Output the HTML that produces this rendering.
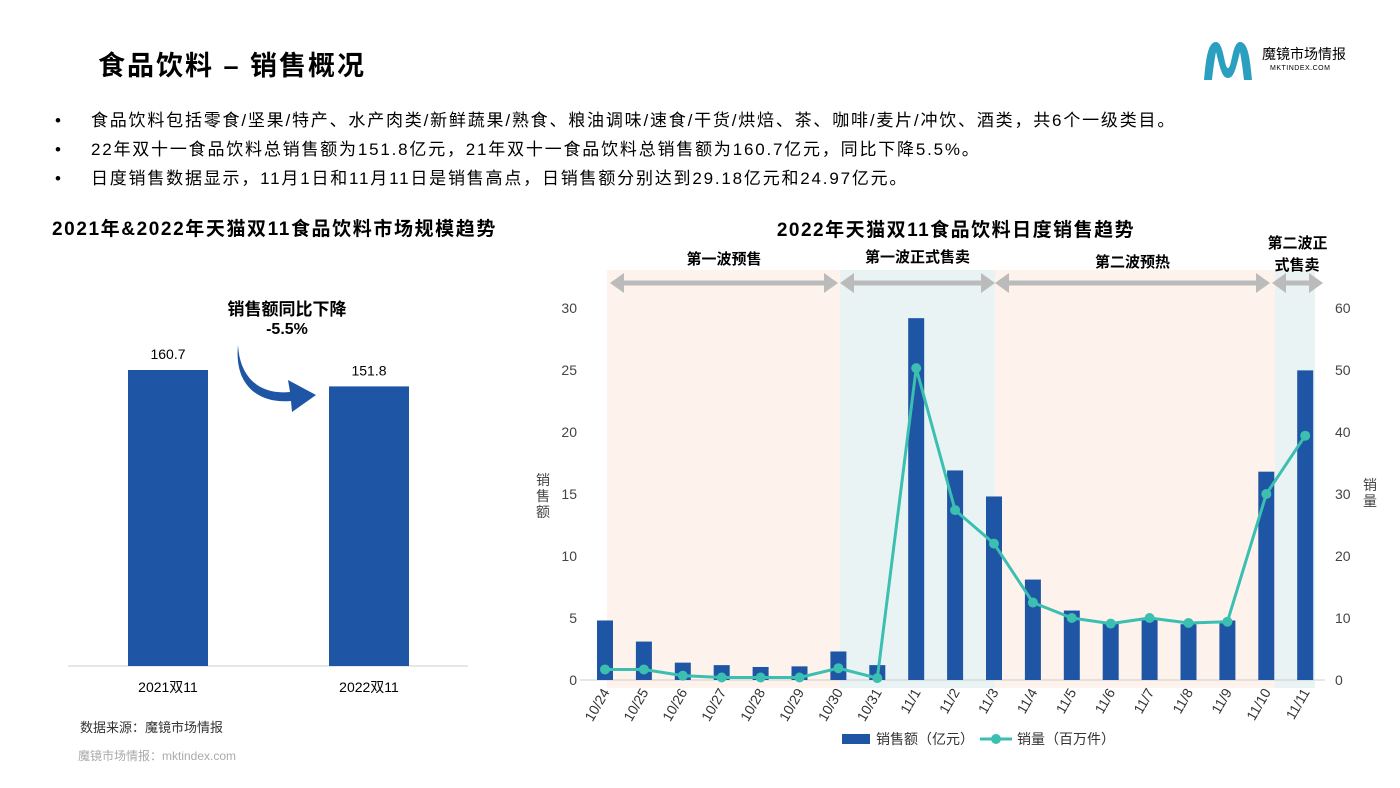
<!DOCTYPE html>
<html><head><meta charset="utf-8">
<style>
body{margin:0;width:1400px;height:788px;background:#fff;font-family:"Liberation Sans","Noto Sans CJK SC",sans-serif;position:relative;overflow:hidden;color:#000}
.abs{position:absolute}
</style></head><body>
<div class="abs" style="left:98px;top:44px;font-size:27px;font-weight:bold;letter-spacing:2px">食品饮料 – 销售概况</div>
<div class="abs" style="left:1200px;top:38px;width:160px;height:46px">
<svg width="56" height="46"><path d="M4 42 C6 20 8 4 16 4 C24 4 24 30 28 30 C32 30 32 4 40 4 C48 4 50 20 52 42 L44 42 C42 24 40 14 40 14 C36 30 34 40 28 40 C22 40 20 30 16 14 C16 14 14 24 12 42 Z" fill="#2a9fc0"/></svg>
<div class="abs" style="left:62px;top:6px;font-size:14px">魔镜市场情报</div>
<div class="abs" style="left:70px;top:27px;font-size:7px;letter-spacing:0.5px">MKTINDEX.COM</div>
</div>
<div class="abs" style="left:55px;top:106px;font-size:17px;line-height:29px;letter-spacing:1.8px">
<div><span style="letter-spacing:0">•</span><span style="display:inline-block;width:30px"></span>食品饮料包括零食/坚果/特产、水产肉类/新鲜蔬果/熟食、粮油调味/速食/干货/烘焙、茶、咖啡/麦片/冲饮、酒类，共6个一级类目。</div>
<div><span style="letter-spacing:0">•</span><span style="display:inline-block;width:30px"></span>22年双十一食品饮料总销售额为151.8亿元，21年双十一食品饮料总销售额为160.7亿元，同比下降5.5%。</div>
<div><span style="letter-spacing:0">•</span><span style="display:inline-block;width:30px"></span>日度销售数据显示，11月1日和11月11日是销售高点，日销售额分别达到29.18亿元和24.97亿元。</div>
</div>
<div class="abs" style="left:52px;top:214px;font-size:19px;font-weight:bold;letter-spacing:1.6px">2021年&amp;2022年天猫双11食品饮料市场规模趋势</div>
<svg class="abs" style="left:0;top:0" width="1400" height="788">
<g id="left"></g>
<g id="right"></g>
</svg>
<div class="abs" style="left:80px;top:717px;font-size:13px;color:#333">数据来源：魔镜市场情报</div>
<div class="abs" style="left:78px;top:747px;font-size:12px;color:#aaa">魔镜市场情报：mktindex.com</div>
<script>
const leftCats=["2021双11","2022双11"];
const leftVals=[160.7,151.8];
const cats=["10/24","10/25","10/26","10/27","10/28","10/29","10/30","10/31","11/1","11/2","11/3","11/4","11/5","11/6","11/7","11/8","11/9","11/10","11/11"];
const sales=[4.8,3.1,1.4,1.2,1.05,1.1,2.3,1.2,29.18,16.9,14.8,8.1,5.6,4.7,5.0,4.5,4.8,16.8,24.97];
const volume=[1.7,1.7,0.7,0.4,0.4,0.4,1.9,0.3,50.3,27.4,22.0,12.5,10.0,9.1,10.0,9.2,9.4,30.0,39.4];
const leftTicks=[0,5,10,15,20,25,30];
const rightTicks=[0,10,20,30,40,50,60];
const NS="http://www.w3.org/2000/svg";
function mk(p,t,a,txt){const e=document.createElementNS(NS,t);for(const k in a)e.setAttribute(k,a[k]);if(txt!=null)e.textContent=txt;p.appendChild(e);return e;}
// left chart
const L=document.getElementById('left');
const ly=v=>666-v*296/160.7;
const lx=i=>168+i*201;
let e=mk(L,'line',{x1:68,x2:468,y1:666,y2:666,stroke:'#ccc'});

leftVals.forEach((v,i)=>{
 let b=mk(L,'rect',{x:lx(i)-40,y:ly(v),width:80,height:666-ly(v),fill:'#1f55a5'});
 
 let t=mk(L,'text',{x:lx(i),y:ly(v)-11,'font-size':14,'text-anchor':'middle'},v.toFixed(1));
 
 let c=mk(L,'text',{x:lx(i),y:692,'font-size':14,'text-anchor':'middle'},leftCats[i]);
 
});
e=mk(L,'path',{d:'M238 345 C240 380 262 395 290 392 L288 380 L316 395 L292 412 L291 401 C258 404 234 385 238 345 Z',fill:'#1f55a5'});

e=mk(L,'text',{x:287,y:315,'font-size':17,'font-weight':'bold','text-anchor':'middle'},'销售额同比下降');

mk(L,'text',{x:287,y:334,'font-size':16,'font-weight':'bold','text-anchor':'middle'},'-5.5%');
// right chart
const R=document.getElementById('right');
const x=i=>605+i*38.9;
const y=v=>680-v*12.4;
const y2=v=>680-v*6.2;
const bands=[[607,840,'#fdf3ec'],[840,995,'#eaf3f4'],[995,1275,'#fdf3ec'],[1275,1315,'#eaf3f4']];
bands.forEach(b=>{let r=mk(R,'rect',{x:b[0],y:270,width:b[1]-b[0],height:418,fill:b[2]});});
mk(R,'text',{x:956,y:236,'font-size':19,'font-weight':'bold','text-anchor':'middle','letter-spacing':'1.5'},'2022年天猫双11食品饮料日度销售趋势');
const phases=[[610,838,'第一波预售',264],[840,995,'第一波正式售卖',262],[995,1270,'第二波预热',267],[1272,1323,'第二波正',248]];
phases.forEach(p=>{
 let g=mk(R,'g',{});
 mk(g,'line',{x1:p[0]+12,x2:p[1]-12,y1:283,y2:283,stroke:'#bbb','stroke-width':5});
 mk(g,'polygon',{points:`${p[0]},283 ${p[0]+14},273 ${p[0]+14},293`,fill:'#bbb'});
 mk(g,'polygon',{points:`${p[1]},283 ${p[1]-14},273 ${p[1]-14},293`,fill:'#bbb'});
 mk(g,'text',{x:(p[0]+p[1])/2,y:p[3],'font-size':15,'font-weight':'bold','text-anchor':'middle'},p[2]);
});
mk(R,'text',{x:1297,y:270,'font-size':15,'font-weight':'bold','text-anchor':'middle'},'式售卖');
mk(R,'line',{x1:580,x2:1325,y1:680,y2:680,stroke:'#ccc'});
leftTicks.forEach(t=>{let e=mk(R,'text',{x:577,y:y(t)+5,'font-size':14,'text-anchor':'end',fill:'#444'},t);});
rightTicks.forEach(t=>{let e=mk(R,'text',{x:1335,y:y2(t)+5,'font-size':14,fill:'#444'},t);});
['销','售','额'].forEach((c,i)=>mk(R,'text',{x:543,y:485+i*16,'font-size':14,'text-anchor':'middle',fill:'#444'},c));
['销','量'].forEach((c,i)=>mk(R,'text',{x:1370,y:490+i*16,'font-size':14,'text-anchor':'middle',fill:'#444'},c));
sales.forEach((v,i)=>{
 let b=mk(R,'rect',{x:x(i)-8,y:y(v),width:16,height:680-y(v),fill:'#1f55a5'});
 
 let t=mk(R,'text',{x:0,y:0,'font-size':14,'text-anchor':'end',fill:'#333',transform:`translate(${x(i)+5},${692}) rotate(-60)`},cats[i]);
 
});
let pts=volume.map((v,i)=>x(i)+','+y2(v)).join(' ');
let ln=mk(R,'polyline',{points:pts,fill:'none',stroke:'#3bbfb0','stroke-width':3,'stroke-linejoin':'round'});

volume.forEach((v,i)=>{let c=mk(R,'circle',{cx:x(i),cy:y2(v),r:5,fill:'#3bbfb0'});});
let lg=mk(R,'g',{});
mk(lg,'rect',{x:842,y:734,width:28,height:10,fill:'#1f55a5'});
mk(lg,'text',{x:876,y:744,'font-size':14,fill:'#333'},'销售额（亿元）');
mk(lg,'line',{x1:980,x2:1012,y1:739,y2:739,stroke:'#3bbfb0','stroke-width':3});
mk(lg,'circle',{cx:996,cy:739,r:5,fill:'#3bbfb0'});
mk(lg,'text',{x:1017,y:744,'font-size':14,fill:'#333'},'销量（百万件）');
</script>
</body></html>
